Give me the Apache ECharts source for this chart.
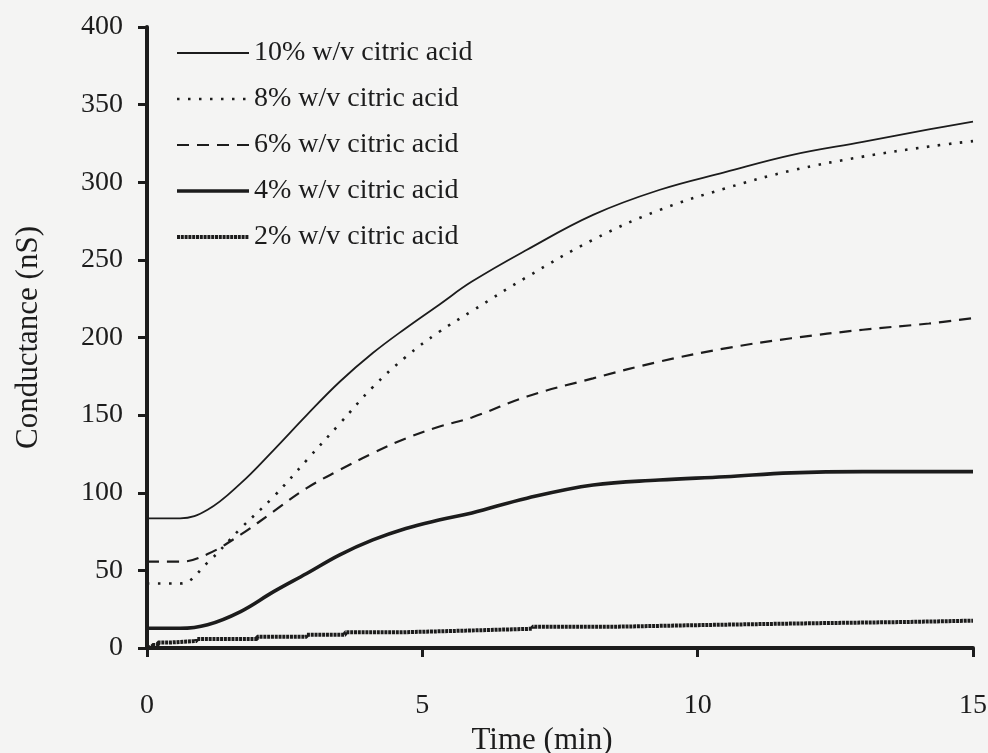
<!DOCTYPE html>
<html>
<head>
<meta charset="utf-8">
<script src="https://cdn.jsdelivr.net/npm/echarts@6/dist/echarts.min.js"></script>
<style>
  html, body { margin: 0; padding: 0; background: #f4f4f3; }
  #chart { width: 988px; height: 753px; }
</style>
</head>
<body>
<div id="chart"></div>
<script>
// Sampling times (min) shared by the four smooth conductance curves
const timeMin = [0, 0.6, 1.1, 1.7, 2.3, 2.9, 3.5, 4.1, 4.7, 5.3, 5.9, 6.9, 8.1, 9.3, 10.5, 11.7, 13.0, 14.2, 15];

// Conductance (nS) for each citric acid concentration
const cond10 = [83.5, 83.5, 89, 106, 127.5, 150, 171.5, 190, 206, 221, 236, 256.5, 279, 295, 306.5, 317.5, 326, 334, 339];
const cond8  = [41.5, 41.5, 55, 77, 97.5, 121, 144.5, 168, 187.5, 203.5, 217, 239, 263, 282, 296, 307.5, 316.5, 323, 326.5];
const cond6  = [55.6, 55.6, 60.5, 73, 88, 103, 114.7, 125.5, 135, 142.5, 148.5, 162, 173.7, 184.4, 193, 199.5, 205, 209, 212.5];
const cond4  = [12.7, 12.7, 15, 23.5, 36.3, 48, 60, 69.6, 77, 82.4, 87, 96.5, 105, 108.2, 110.3, 112.8, 113.6, 113.6, 113.6];

// The 2% trace rises in discrete steps: times where each level begins
const time2 = [0, 0.1, 0.2, 0.4, 0.9, 2.0, 2.9, 3.6, 4.6, 5.8, 7.0, 8.5, 10.1, 12.0, 13.7, 15];
const cond2 = [0.5, 2, 3.5, 4.5, 5.8, 7.3, 8.6, 10.1, 11.2, 12.4, 13.7, 14.8, 15.9, 16.7, 17.6, 17.6];

const seriesNames = ['10% w/v citric acid', '8% w/v citric acid', '6% w/v citric acid', '4% w/v citric acid', '2% w/v citric acid'];
const xTicks = [0, 5, 10, 15];
const yTicks = [0, 50, 100, 150, 200, 250, 300, 350, 400];

const ink = '#1c1c1c';
const serif = '"Liberation Serif", "Times New Roman", serif';

function pairs(xs, ys) { return xs.map((x, i) => [x, ys[i]]); }

const chart = echarts.init(document.getElementById('chart'), null, { renderer: 'canvas' });

chart.setOption({
  backgroundColor: '#f4f4f3',
  animation: false,
  grid: { left: 147, right: 15, top: 27, bottom: 105, containLabel: false, outerBoundsMode: 'none' },
  legend: {
    orient: 'vertical',
    left: 175,
    top: 39,
    padding: 0,
    itemWidth: 72,
    itemHeight: 14,
    itemGap: 18,
    data: seriesNames,
    textStyle: { fontFamily: serif, fontSize: 28, lineHeight: 28, color: ink },
    lineStyle: { width: 'inherit' },
    itemStyle: { opacity: 0 }
  },
  xAxis: {
    type: 'value',
    min: xTicks[0],
    max: xTicks[xTicks.length - 1],
    interval: 5,
    name: 'Time (min)',
    nameLocation: 'middle',
    nameGap: 74,
    nameTextStyle: { fontFamily: serif, fontSize: 31, color: ink, padding: [0, 36, 0, 0] },
    axisLine: { show: true, onZero: false, lineStyle: { color: ink, width: 4 } },
    axisTick: { show: true, inside: false, length: 9, lineStyle: { color: ink, width: 3 } },
    axisLabel: { margin: 44, fontFamily: serif, fontSize: 28, color: ink },
    splitLine: { show: false }
  },
  yAxis: {
    type: 'value',
    min: yTicks[0],
    max: yTicks[yTicks.length - 1],
    interval: 50,
    name: 'Conductance (nS)',
    nameLocation: 'middle',
    nameGap: 103,
    nameRotate: 90,
    nameTextStyle: { fontFamily: serif, fontSize: 31, color: ink },
    axisLine: { show: true, lineStyle: { color: ink, width: 4 } },
    axisTick: { show: true, inside: false, length: 9, lineStyle: { color: ink, width: 3 } },
    axisLabel: { margin: 24, fontFamily: serif, fontSize: 28, color: ink },
    splitLine: { show: false }
  },
  series: [
    {
      name: seriesNames[0], type: 'line', data: pairs(timeMin, cond10),
      symbol: 'none', smooth: 0.4,
      lineStyle: { color: ink, width: 1.8, type: 'solid' }, z: 5
    },
    {
      name: seriesNames[1], type: 'line', data: pairs(timeMin, cond8),
      symbol: 'none', smooth: 0.4,
      lineStyle: { color: ink, width: 2.6, type: [2.5, 8.5] }, z: 4
    },
    {
      name: seriesNames[2], type: 'line', data: pairs(timeMin, cond6),
      symbol: 'none', smooth: 0.4,
      lineStyle: { color: ink, width: 2.2, type: [12, 8] }, z: 3
    },
    {
      name: seriesNames[3], type: 'line', data: pairs(timeMin, cond4),
      symbol: 'none', smooth: 0.4,
      lineStyle: { color: ink, width: 3.6, type: 'solid' }, z: 2
    },
    {
      name: seriesNames[4], type: 'line', data: pairs(time2, cond2),
      symbol: 'none', step: 'end',
      lineStyle: { color: ink, width: 4, type: [3, 0.8] }, z: 1
    }
  ]
});
</script>
</body>
</html>
